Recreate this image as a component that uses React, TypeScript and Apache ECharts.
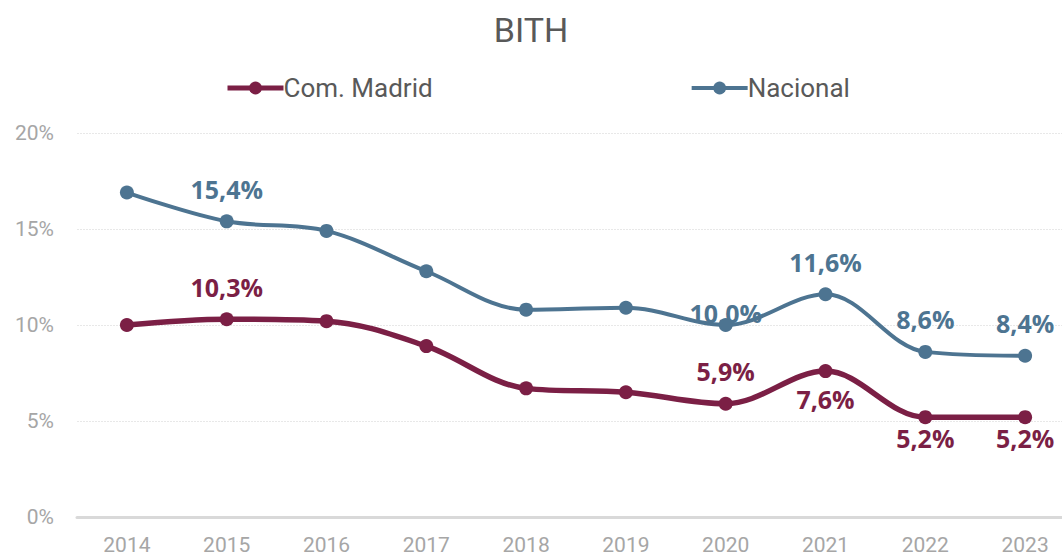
import React, { useEffect, useRef } from "react";
import * as echarts from "echarts";

const years = ["2014", "2015", "2016", "2017", "2018", "2019", "2020", "2021", "2022", "2023"];
const madrid = [10.0, 10.3, 10.2, 8.9, 6.7, 6.5, 5.9, 7.6, 5.2, 5.2];
const nacional = [16.9, 15.4, 14.9, 12.8, 10.8, 10.9, 10.0, 11.6, 8.6, 8.4];
const madridLabelsAbove = [1, 6];
const madridLabelsBelow = [7, 8, 9];
const nacionalLabelsAbove = [1, 6, 7, 8, 9];
const yTicks = [0, 5, 10, 15, 20];

const MAD = "#7B1F45";
const NAC = "#4D7491";
const FONT = "Roboto, Arial, sans-serif";

const fmt = (v: number) => v.toFixed(1).replace(".", ",") + "%";

export default function App() {
  const ref = useRef<HTMLDivElement>(null);
  useEffect(() => {
    const chart = echarts.init(ref.current!, null, { renderer: "svg" });
    const labelStyle = (color: string) => ({
      show: true,
      color,
      fontSize: 25,
      fontWeight: "bold" as const,
      fontFamily: "'Open Sans', Arial, sans-serif",
      formatter: (p: any) => fmt(p.value),
    });
    const madData = madrid.map((v, i) => {
      if (madridLabelsAbove.includes(i)) {
        return { value: v, label: { ...labelStyle(MAD), position: "top", distance: 13 } };
      }
      if (madridLabelsBelow.includes(i)) {
        return { value: v, label: { ...labelStyle(MAD), position: "bottom", distance: i === 7 ? 8 : 1 } };
      }
      return { value: v };
    });
    const nacData = nacional.map((v, i) => {
      if (nacionalLabelsAbove.includes(i)) {
        return {
          value: v,
          label: { ...labelStyle(NAC), position: "top", distance: 13, offset: i === 6 ? [0, 20] : [0, 0] },
        };
      }
      return { value: v };
    });
    chart.setOption({
      animation: false,
      title: {
        text: "BITH",
        left: "center",
        top: 8,
        textStyle: { color: "#595959", fontSize: 34, fontWeight: "normal", fontFamily: FONT },
      },
      legend: {
        left: 220,
        top: 70,
        itemWidth: 56,
        itemHeight: 16,
        itemGap: 257,
        textStyle: { color: "#595959", fontSize: 26, padding: [0, 0, 0, -5], fontFamily: FONT },
        data: [
          { name: "Com. Madrid", itemStyle: { color: MAD }, lineStyle: { color: MAD, width: 5 } },
          { name: "Nacional", itemStyle: { color: NAC }, lineStyle: { color: NAC, width: 4 } },
        ],
      },
      grid: { left: 77, width: 998, top: 133, height: 384, containLabel: false, outerBoundsMode: "none" },
      xAxis: {
        type: "category",
        data: years,
        boundaryGap: true,
        axisLine: { lineStyle: { color: "#d9d9d9", width: 3 } },
        axisTick: { show: false },
        axisLabel: { color: "#a6a6a6", fontSize: 21, margin: 17, fontFamily: FONT },
      },
      yAxis: {
        type: "value",
        min: yTicks[0],
        max: yTicks[yTicks.length - 1],
        interval: 5,
        axisLine: { show: false },
        axisTick: { show: false },
        axisLabel: {
          color: "#a6a6a6",
          fontSize: 21,
          margin: 23,
          fontFamily: FONT,
          formatter: (v: number) => v + "%",
        },
        splitLine: { lineStyle: { color: "#e8e8e8", width: 1, type: [2, 1] } },
      },
      series: [
        {
          name: "Com. Madrid",
          type: "line",
          smooth: 0.35,
          data: madData,
          symbol: "circle",
          symbolSize: 14,
          itemStyle: { color: MAD },
          lineStyle: { color: MAD, width: 5.5 },
          z: 3,
        },
        {
          name: "Nacional",
          type: "line",
          smooth: 0.35,
          data: nacData,
          symbol: "circle",
          symbolSize: 14,
          itemStyle: { color: NAC },
          lineStyle: { color: NAC, width: 4 },
          z: 2,
        },
      ],
    });
    return () => chart.dispose();
  }, []);
  return <div ref={ref} style={{ position: "absolute", left: 0, top: 0, width: 1062, height: 557 }} />;
}
